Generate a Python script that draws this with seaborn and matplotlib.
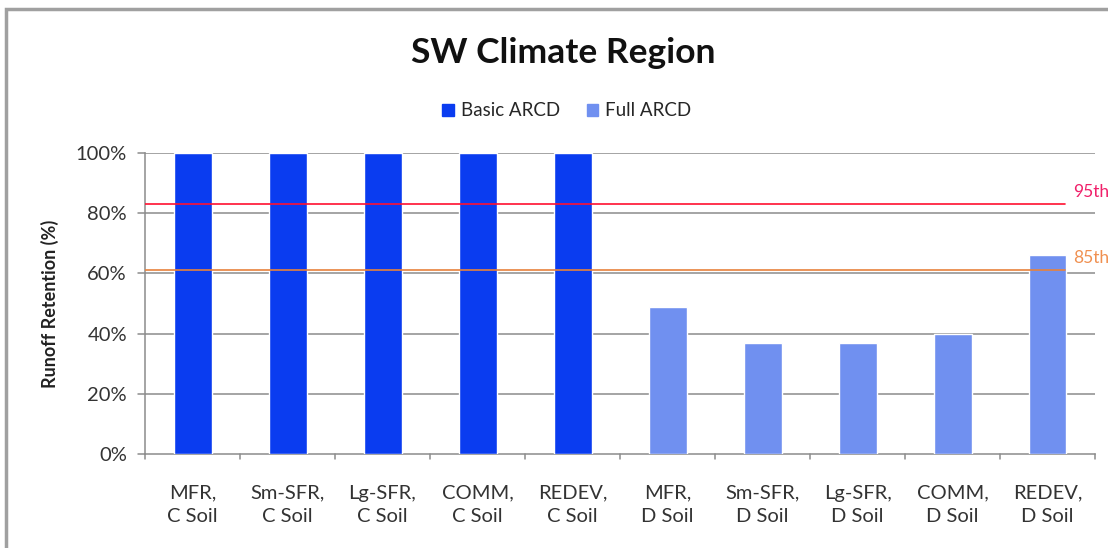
import matplotlib
matplotlib.use("Agg")
import matplotlib.pyplot as plt
import matplotlib.patches as mpatches
import seaborn as sns
import pandas as pd

# Runoff retention per development scenario
categories = ["MFR,\nC Soil", "Sm-SFR,\nC Soil", "Lg-SFR,\nC Soil", "COMM,\nC Soil", "REDEV,\nC Soil",
              "MFR,\nD Soil", "Sm-SFR,\nD Soil", "Lg-SFR,\nD Soil", "COMM,\nD Soil", "REDEV,\nD Soil"]
groups = ["Basic ARCD"] * 5 + ["Full ARCD"] * 5
retention = [100, 100, 100, 100, 100, 49, 37, 37, 40, 66]

# Percentile storm reference levels
pct_labels = ["95th", "85th"]
pct_values = [83, 61]

yticks = [0, 20, 40, 60, 80, 100]
ytick_labels = ["0%", "20%", "40%", "60%", "80%", "100%"]

palette = {"Basic ARCD": "#0a3cf0", "Full ARCD": "#7090f0"}
line_colors = {"95th": "#ff1030", "85th": "#e8823c"}
text_colors = {"95th": "#f0206a", "85th": "#f09050"}

sns.set_theme(style="white")
plt.rcParams["font.family"] = ["Lato", "DejaVu Sans"]

df = pd.DataFrame({"cat": categories, "group": groups, "val": retention})

fig = plt.figure(figsize=(11.08, 5.48), dpi=100)
ax = fig.add_axes([145 / 1108, 1 - 454 / 548, 950 / 1108, (454 - 153) / 548])

# Outer chart frame
fig.patches.append(mpatches.Rectangle((6 / 1108, -0.05), 1.2, 1 - 9 / 548 + 0.05,
                                      transform=fig.transFigure, fill=False,
                                      edgecolor="#a0a0a0", linewidth=2.5, zorder=0))

sns.barplot(data=df, x="cat", y="val", hue="group", dodge=False, width=0.4,
            palette=palette, saturation=1, ax=ax, legend=False, zorder=3)

ax.set_xlim(-0.5, len(categories) - 0.5)
ax.set_ylim(0, 100)
ax.set_yticks(yticks)
ax.set_yticklabels(ytick_labels, fontsize=14.5, color="#333333")
ax.tick_params(axis="x", labelsize=14.5, colors="#333333", pad=22, length=0)
for t in ax.get_xticklabels():
    t.set_linespacing(1.45)
ax.tick_params(axis="y", length=0, pad=13)
ax.set_xlabel("")
ax.set_ylabel("Runoff Retention (%)", fontsize=13, fontweight="bold", color="#222222", labelpad=12)

for y in yticks[1:]:
    ax.axhline(y, color="#8c8c8c", linewidth=1.1, zorder=1)

for s in ["top", "right"]:
    ax.spines[s].set_visible(False)
for s in ["left", "bottom"]:
    ax.spines[s].set_color("#8c8c8c")
    ax.spines[s].set_linewidth(1.1)

# Small outward tick marks on both axes
for y in yticks:
    ax.plot([-0.5 - 0.07, -0.5], [y, y], color="#8c8c8c", lw=1.1, clip_on=False, zorder=2)
for i in range(len(categories) + 1):
    ax.plot([i - 0.5, i - 0.5], [0, -1.8], color="#8c8c8c", lw=1.1, clip_on=False, zorder=2)

for lab, val in zip(pct_labels, pct_values):
    ax.axhline(val, xmin=0, xmax=0.968, color=line_colors[lab], linewidth=1.2, zorder=4)
    ax.text(9.27, val + 1.3, lab, color=text_colors[lab], fontsize=12.5,
            ha="left", va="bottom", clip_on=False)

handles = [mpatches.Patch(color=palette[g], label=g) for g in ["Basic ARCD", "Full ARCD"]]
fig.legend(handles=handles, loc="center", bbox_to_anchor=(567 / 1108, 1 - 111 / 548), ncol=2,
           frameon=False, fontsize=13.5, handlelength=0.6, handleheight=0.6,
           handletextpad=0.4, columnspacing=1.4)

fig.text(563 / 1108, 1 - 53 / 548, "SW Climate Region", ha="center", va="center",
         fontsize=25.5, fontweight="bold", color="#111111")

fig.savefig("out.png", dpi=100, facecolor="white")
